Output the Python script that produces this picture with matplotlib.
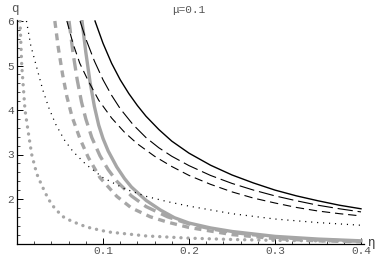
import matplotlib
matplotlib.use('Agg')
import matplotlib.pyplot as plt
from matplotlib.ticker import MultipleLocator

plt.rcParams['lines.scale_dashes'] = False
plt.rcParams['font.family'] = ['Liberation Mono', 'DejaVu Sans']

# black curves (thin)
eta_k_solid = [0.0907, 0.1, 0.11, 0.12, 0.13, 0.14, 0.15, 0.165, 0.18, 0.2, 0.225, 0.25, 0.275, 0.3, 0.325, 0.35, 0.375, 0.4]
q_k_solid = [6.0, 5.5, 5.05, 4.68, 4.37, 4.1, 3.86, 3.56, 3.3, 3.03, 2.76, 2.54, 2.36, 2.2, 2.07, 1.96, 1.86, 1.78]

eta_k_long = [0.0733, 0.08, 0.09, 0.1, 0.11, 0.12, 0.135, 0.15, 0.165, 0.18, 0.2, 0.225, 0.25, 0.275, 0.3, 0.325, 0.35, 0.375, 0.4]
q_k_long = [6.0, 5.6, 5.1, 4.68, 4.33, 4.03, 3.67, 3.38, 3.15, 2.96, 2.75, 2.53, 2.35, 2.2, 2.07, 1.96, 1.86, 1.78, 1.71]

eta_k_dash = [0.058, 0.065, 0.073, 0.083, 0.095, 0.11, 0.125, 0.14, 0.16, 0.18, 0.2, 0.225, 0.25, 0.275, 0.3, 0.325, 0.35, 0.375, 0.4]
q_k_dash = [6.0, 5.5, 5.05, 4.65, 4.22, 3.82, 3.5, 3.24, 2.96, 2.73, 2.53, 2.33, 2.16, 2.02, 1.91, 1.81, 1.73, 1.67, 1.62]

eta_k_dot = [0.011, 0.016, 0.023, 0.03, 0.037, 0.045, 0.055, 0.065, 0.08, 0.1, 0.125, 0.15, 0.175, 0.2, 0.25, 0.3, 0.35, 0.4]
q_k_dot = [6.0, 5.45, 4.95, 4.45, 4.05, 3.68, 3.33, 3.07, 2.78, 2.48, 2.23, 2.06, 1.94, 1.84, 1.67, 1.55, 1.47, 1.41]

# gray curves (thick)
eta_g_solid = [0.0756, 0.08, 0.085, 0.09, 0.095, 0.1, 0.106, 0.116, 0.125, 0.133, 0.15, 0.167, 0.183, 0.2, 0.225, 0.25, 0.3, 0.35, 0.4]
q_g_solid = [6.0, 5.3, 4.62, 4.08, 3.66, 3.36, 3.08, 2.72, 2.46, 2.27, 1.97, 1.75, 1.58, 1.46, 1.35, 1.27, 1.16, 1.1, 1.06]

eta_g_long = [0.0605, 0.065, 0.07, 0.075, 0.08, 0.087, 0.0965, 0.106, 0.116, 0.133, 0.15, 0.175, 0.2, 0.225, 0.25, 0.3, 0.35, 0.4]
q_g_long = [6.0, 5.3, 4.68, 4.18, 3.8, 3.38, 2.97, 2.66, 2.4, 2.07, 1.83, 1.6, 1.44, 1.33, 1.25, 1.14, 1.08, 1.05]

eta_g_dash = [0.044, 0.048, 0.053, 0.058, 0.064, 0.0733, 0.083, 0.0965, 0.116, 0.133, 0.155, 0.175, 0.2, 0.25, 0.3, 0.35, 0.4]
q_g_dash = [6.0, 5.4, 4.8, 4.3, 3.85, 3.35, 2.93, 2.48, 2.06, 1.8, 1.6, 1.48, 1.36, 1.2, 1.11, 1.06, 1.04]

eta_g_dot = [0.0035, 0.0055, 0.0093, 0.0131, 0.0171, 0.0229, 0.0287, 0.0364, 0.0442, 0.0538, 0.0636, 0.081, 0.0965, 0.106, 0.15, 0.2, 0.25, 0.3, 0.4]
q_g_dot = [6.0, 5.0, 4.0, 3.5, 3.0, 2.57, 2.31, 2.0, 1.78, 1.6, 1.5, 1.37, 1.3, 1.26, 1.17, 1.12, 1.09, 1.07, 1.05]

gray = '#a6a6a6'

fig = plt.figure(figsize=(3.92, 2.56), dpi=100)
ax = fig.add_axes([17/392, 12.5/256, 0.403*860/392, 5.02*44.5/256])

ax.plot(eta_g_dot, q_g_dot, color=gray, lw=2.4, dashes=(0.1, 5), dash_capstyle='round')
ax.plot(eta_g_dash, q_g_dash, color=gray, lw=2.4, dashes=(5, 4))
ax.plot(eta_g_long, q_g_long, color=gray, lw=2.4, dashes=(9, 4.5))
ax.plot(eta_g_solid, q_g_solid, color=gray, lw=2.4)

ax.plot(eta_k_dot, q_k_dot, color='black', lw=0.9, dashes=(0.8, 3.5))
ax.plot(eta_k_dash, q_k_dash, color='black', lw=0.8, dashes=(6, 3.5))
ax.plot(eta_k_long, q_k_long, color='black', lw=0.8, dashes=(11, 3.5))
ax.plot(eta_k_solid, q_k_solid, color='black', lw=1.0)

ax.set_xlim(0, 0.403)
ax.set_ylim(1, 6.02)
for s in ['top', 'right']:
    ax.spines[s].set_visible(False)
for s in ['left', 'bottom']:
    ax.spines[s].set_linewidth(0.9)

ax.set_xticks([0.1, 0.2, 0.3, 0.4])
ax.set_xticklabels(['0.1', '0.2', '0.3', '0.4'])
ax.set_yticks([2, 3, 4, 5, 6])
ax.set_yticklabels(['2', '3', '4', '5', '6'])
ax.xaxis.set_minor_locator(MultipleLocator(0.02))
ax.yaxis.set_minor_locator(MultipleLocator(0.2))
ax.tick_params(which='major', direction='in', length=4, width=0.7,
               labelsize=8, labelcolor='#555555', pad=2)
ax.tick_params(which='minor', direction='in', length=2, width=0.5)

fig.text(15/392, 1 - 9/256, 'q', fontsize=9, color='#555555', ha='center', va='center')
fig.text(372/392, 1 - 243/256, 'η', fontsize=9, color='#333333', ha='center', va='center')
fig.text(189/392, 1 - 10/256, 'μ=0.1', fontsize=8, color='#555555', ha='center', va='center')

fig.savefig('out.png', dpi=100)
